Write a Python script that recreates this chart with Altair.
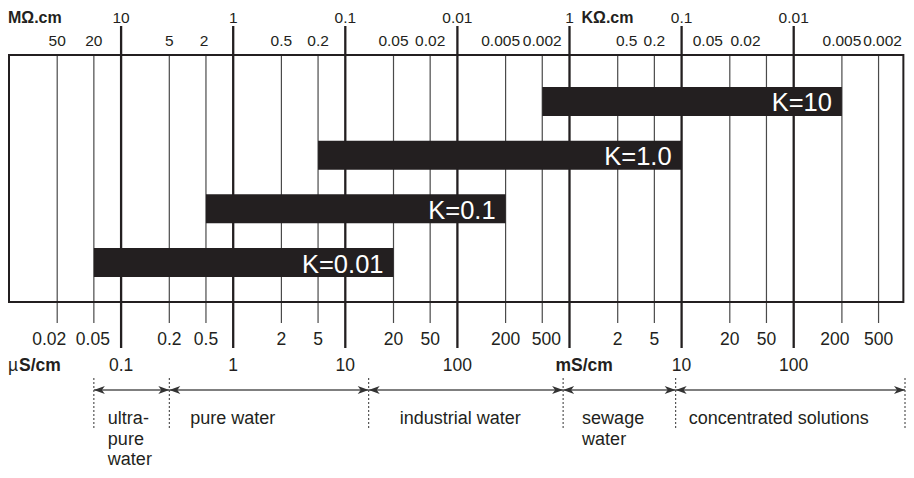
import math
import altair as alt
import pandas as pd

# ---------------- data ----------------
# conductivity scale, µS/cm
SCALE_MIN = 0.01
SCALE_MAX = 1000000
FRAME_RIGHT = 940000
MAJOR = [0.1, 1, 10, 100, 1000, 10000, 100000]
MINOR = [0.02, 0.05, 0.2, 0.5, 2, 5, 20, 50, 200, 500,
         2000, 5000, 20000, 50000, 200000, 500000]

TOP_MAJOR_LABELS = ["10", "1", "0.1", "0.01", "1", "0.1", "0.01"]
TOP_MINOR_LABELS = ["50", "20", "5", "2", "0.5", "0.2", "0.05", "0.02", "0.005", "0.002",
                    "0.5", "0.2", "0.05", "0.02", "0.005", "0.002"]
BOTTOM_MAJOR_LABELS = ["0.1", "1", "10", "100", "", "10", "100"]
BOTTOM_MINOR_LABELS = ["0.02", "0.05", "0.2", "0.5", "2", "5", "20", "50", "200", "500",
                       "2", "5", "20", "50", "200", "500"]

# label nudges seen in the reference (px)
TOP_MINOR_DX = [0, 0, 0, -2, 0, 0, 0, 0, -5, 0, 9, 0, -22, -21, 0, 4]
BOTTOM_MINOR_DX = [-8, -1, 0, 0, 0, 0, 0, 0, 0, 4, 0, 0, 0, 0, -7, 0]

K_NAMES = ["K=10", "K=1.0", "K=0.1", "K=0.01"]
K_LOW = [500, 5, 0.5, 0.05]
K_HIGH = [200000, 10000, 200, 20]

RANGE_NAMES = ["ultra-\npure\nwater", "pure water", "industrial water",
               "sewage\nwater", "concentrated solutions"]
RANGE_BOUNDS = [0.05, 0.2, 14, 850, 8600, 980000]
RANGE_TEXT_DX = [14, 21, 31, 19, 13]

# ---------------- style / layout ----------------
INK = "#231f20"
FONT = "Liberation Sans"
W, H = 898, 462
X0, DEC = 1.0, 112.1
# where the 1-2-5 lines sit inside a decade on the reference ruler
WARP = {1: 0.0, 2: 0.43, 5: 0.757}

Y_TOP1, Y_TOP2 = 14.5, 38
Y_TICK_TOP = 18
Y_FRAME_T, Y_FRAME_B = 47, 294
Y_MINOR_B, Y_MAJOR_B = 315, 340
Y_BOT1, Y_BOT2 = 337, 363
Y_DOT_T, Y_DOT_B = 370, 421
Y_ARROW = 382
Y_RANGE_TXT = 416


def pos(v):
    e = math.floor(math.log10(v) + 1e-9)
    m = round(v / 10 ** e)
    return X0 + DEC * (e - math.log10(SCALE_MIN) + WARP[m])


breaks = [SCALE_MIN] + sorted(MAJOR + MINOR) + [SCALE_MAX]
XS = alt.Scale(type="log", domain=breaks, range=[pos(b) for b in breaks], nice=False)


def X(field):
    return alt.X(field, type="quantitative", scale=XS, axis=None)


layers = []

# minor lines (2 and 5)
layers.append(
    alt.Chart(pd.DataFrame({"v": MINOR})).mark_rule(color="#4a4a4a", strokeWidth=1.2).encode(
        x=X("v"), y=alt.value(Y_FRAME_T), y2=alt.value(Y_MINOR_B))
)
# decade lines
layers.append(
    alt.Chart(pd.DataFrame({"v": MAJOR})).mark_rule(color=INK, strokeWidth=2.3).encode(
        x=X("v"), y=alt.value(Y_TICK_TOP), y2=alt.value(Y_MAJOR_B))
)
# frame
layers.append(
    alt.Chart(pd.DataFrame({"a": [SCALE_MIN], "b": [FRAME_RIGHT]})).mark_rect(
        fillOpacity=0, stroke=INK, strokeWidth=2).encode(
        x=X("a"), x2="b:Q", y=alt.value(Y_FRAME_T), y2=alt.value(Y_FRAME_B))
)

# K bars
kdf = pd.DataFrame({"K": K_NAMES, "lo": K_LOW, "hi": K_HIGH})
YS = alt.Scale(domain=K_NAMES, range=[Y_FRAME_T, 301], paddingInner=0.46, paddingOuter=0.596)
layers.append(
    alt.Chart(kdf).mark_bar(color=INK).encode(
        x=X("lo"), x2="hi:Q", y=alt.Y("K:N", scale=YS, axis=None))
)
layers.append(
    alt.Chart(kdf).mark_text(align="right", baseline="middle", dx=-10, dy=2,
                             fontSize=25.5, color="white", font=FONT).encode(
        x=X("hi"), y=alt.Y("K:N", scale=YS, axis=None), text="K:N")
)


def label_layers(values, texts, dxs, y, size, bold=False, align="center"):
    df = pd.DataFrame({"v": values, "t": texts, "dx": dxs})
    df = df[df["t"] != ""]
    out = []
    for dx, g in df.groupby("dx"):
        out.append(
            alt.Chart(g[["v", "t"]]).mark_text(
                align=align, baseline="alphabetic", dx=float(dx), fontSize=size,
                font=FONT, color=INK, fontWeight="bold" if bold else "normal").encode(
                x=X("v"), y=alt.value(y), text="t:N")
        )
    return out


layers += label_layers(MAJOR, TOP_MAJOR_LABELS, [0] * len(MAJOR), Y_TOP1, 15.5)
layers += label_layers(MINOR, TOP_MINOR_LABELS, TOP_MINOR_DX, Y_TOP2, 15.5)
layers += label_layers(MINOR, BOTTOM_MINOR_LABELS, BOTTOM_MINOR_DX, Y_BOT1, 17.5)
layers += label_layers(MAJOR, BOTTOM_MAJOR_LABELS, [0] * len(MAJOR), Y_BOT2, 17.5)

# unit labels
layers += label_layers([SCALE_MIN], ["MΩ.cm"], [-1], Y_TOP1, 16, bold=True, align="left")
layers += label_layers([1000], ["KΩ.cm"], [12], Y_TOP1, 16, bold=True, align="left")
layers += label_layers([SCALE_MIN], ["µ"], [-1], Y_BOT2, 17.5, align="left")
layers += label_layers([SCALE_MIN], ["S/cm"], [10], Y_BOT2, 17.5, bold=True, align="left")
layers += label_layers([1000], ["mS/cm"], [-14], Y_BOT2, 17.5, bold=True, align="left")

# application ranges
layers.append(
    alt.Chart(pd.DataFrame({"v": RANGE_BOUNDS})).mark_rule(
        color="#333333", strokeWidth=1, strokeDash=[2, 2]).encode(
        x=X("v"), y=alt.value(Y_DOT_T), y2=alt.value(Y_DOT_B))
)
rdf = pd.DataFrame({"s": RANGE_BOUNDS[:-1], "e": RANGE_BOUNDS[1:], "name": RANGE_NAMES,
                    "dx": RANGE_TEXT_DX})
layers.append(
    alt.Chart(rdf).mark_rule(color="#555555", strokeWidth=1.3).encode(
        x=X("s"), x2="e:Q", y=alt.value(Y_ARROW))
)
LEFT_HEAD = "M0,0 L2.2,-0.8 L1.6,0 L2.2,0.8 Z"
RIGHT_HEAD = "M0,0 L-2.2,-0.8 L-1.6,0 L-2.2,0.8 Z"
layers.append(
    alt.Chart(rdf).mark_point(shape=LEFT_HEAD, filled=True, size=100, color="#333333",
                              opacity=1, strokeWidth=0).encode(
        x=X("s"), y=alt.value(Y_ARROW))
)
layers.append(
    alt.Chart(rdf).mark_point(shape=RIGHT_HEAD, filled=True, size=100, color="#333333",
                              opacity=1, strokeWidth=0).encode(
        x=X("e"), y=alt.value(Y_ARROW))
)
for _, r in rdf.iterrows():
    layers.append(
        alt.Chart(pd.DataFrame({"s": [r["s"]], "name": [r["name"]]})).mark_text(
            align="left", baseline="alphabetic", dx=float(r["dx"]), fontSize=18,
            font=FONT, color=INK, lineBreak="\n", lineHeight=20.5).encode(
            x=X("s"), y=alt.value(Y_RANGE_TXT), text="name:N")
    )

chart = alt.layer(*layers).properties(
    width=W, height=H,
    autosize=alt.AutoSizeParams(type="none"),
    padding=0,
).configure_view(strokeWidth=0)

chart.save("out.html", embed_options={"renderer": "svg", "actions": False})
